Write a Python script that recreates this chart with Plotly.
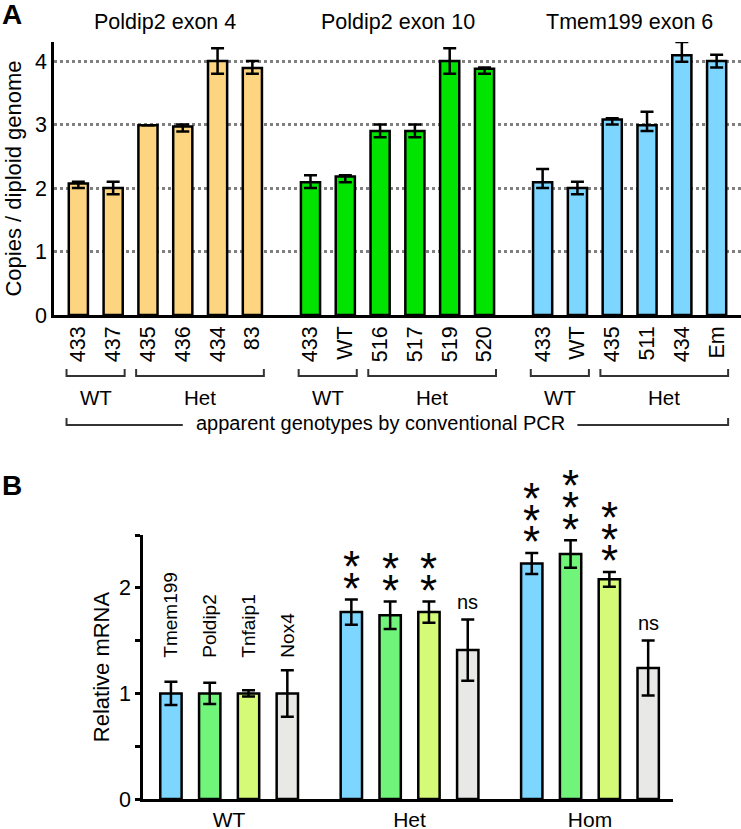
import plotly.graph_objects as go

FONT = "Liberation Sans, Arial, sans-serif"
W, H = 741, 829

# ---------------- panel A: copies per diploid genome ----------------
assays_a = ["Poldip2 exon 4", "Poldip2 exon 10", "Tmem199 exon 6"]
colors_a = ["#FDD47F", "#00E400", "#7DD6FF"]
samples_a = [
    ["433", "437", "435", "436", "434", "83"],
    ["433", "WT", "516", "517", "519", "520"],
    ["433", "WT", "435", "511", "434", "Em"],
]
copies = [
    [2.07, 2.00, 2.99, 2.97, 4.00, 3.89],
    [2.09, 2.18, 2.90, 2.90, 4.00, 3.88],
    [2.09, 2.00, 3.08, 2.99, 4.09, 4.00],
]
copies_up = [
    [0.03, 0.10, 0.00, 0.03, 0.20, 0.11],
    [0.11, 0.02, 0.10, 0.10, 0.20, 0.02],
    [0.21, 0.10, 0.02, 0.21, 0.21, 0.10],
]
copies_dn = [
    [0.07, 0.10, 0.00, 0.08, 0.20, 0.09],
    [0.09, 0.09, 0.10, 0.10, 0.20, 0.08],
    [0.09, 0.10, 0.08, 0.09, 0.10, 0.10],
]
genotype_a = [("WT", 0, 1), ("Het", 2, 5)]
pcr_label = "apparent genotypes by conventional PCR"

# ---------------- panel B: relative mRNA ----------------
genes_b = ["Tmem199", "Poldip2", "Tnfaip1", "Nox4"]
colors_b = ["#7DD6FF", "#70F57A", "#D4FA78", "#E8E8E6"]
genotypes_b = ["WT", "Het", "Hom"]
mrna = [
    [1.00, 1.00, 1.00, 1.00],
    [1.77, 1.74, 1.77, 1.41],
    [2.23, 2.32, 2.08, 1.24],
]
mrna_err = [
    [0.11, 0.10, 0.03, 0.22],
    [0.12, 0.13, 0.10, 0.29],
    [0.10, 0.13, 0.07, 0.26],
]
signif = [
    ["", "", "", ""],
    ["**", "**", "**", "ns"],
    ["***", "***", "***", "ns"],
]
gene_label_base = 1.31  # gene names sit just above this level over the WT bars

# layout helper (pixels from top -> paper)
def py(px):
    return (H - px) / H

gap_a = 0.67
gap_b = 0.65
bar_w = 0.55
y2_dom = [py(799), py(535)]
y2_max = 2.5

def y2_paper(v):
    # value on the panel B axis -> paper fraction (lets marks sit above the axis top)
    return y2_dom[0] + v / y2_max * (y2_dom[1] - y2_dom[0])

fig = go.Figure()

xa_all = []
for g, assay in enumerate(assays_a):
    xs = [g * (6 + gap_a) + i for i in range(6)]
    xa_all += xs
    fig.add_trace(go.Bar(
        x=xs, y=copies[g], width=bar_w,
        marker=dict(color=colors_a[g], line=dict(color="black", width=2.5)),
        error_y=dict(type="data", symmetric=False, array=copies_up[g],
                     arrayminus=copies_dn[g], color="black", thickness=2.5, width=6.5),
        xaxis="x", yaxis="y", showlegend=False, hoverinfo="skip",
    ))
    fig.add_annotation(x=(xs[0] + xs[-1]) / 2, y=py(22), xref="x", yref="paper",
                       yanchor="middle", text=assay, showarrow=False,
                       font=dict(size=21.5))
    # genotype brackets
    for name, i0, i1 in genotype_a:
        x0, x1 = xs[i0] - 0.34, xs[i1] + 0.33
        fig.add_shape(type="path", xref="x", yref="paper",
                      path=f"M {x0},{py(369)} L {x0},{py(376)} L {x1},{py(376)} L {x1},{py(369)}",
                      line=dict(color="#333333", width=2))
        fig.add_annotation(x=(x0 + x1) / 2, y=py(397), xref="x", yref="paper",
                           yanchor="middle", text=name, showarrow=False,
                           font=dict(size=20.5))

# overall PCR bracket with the label in the gap
left0, right1 = xa_all[0] - 0.34, xa_all[-1] + 0.33
left1, right0 = xa_all[3], xa_all[13]
fig.add_shape(type="path", xref="x", yref="paper",
              path=f"M {left0},{py(418)} L {left0},{py(425)} L {left1},{py(425)}",
              line=dict(color="#333333", width=2))
fig.add_shape(type="path", xref="x", yref="paper",
              path=f"M {right0},{py(425)} L {right1},{py(425)} L {right1},{py(418)}",
              line=dict(color="#333333", width=2))
fig.add_annotation(x=(left1 + right0) / 2, y=py(423), xref="x", yref="paper",
                   yanchor="middle", text=pcr_label, showarrow=False,
                   font=dict(size=20))

# panel B bars
for j, gene in enumerate(genes_b):
    xs = [g * (4 + gap_b) + j for g in range(3)]
    fig.add_trace(go.Bar(
        x=xs, y=[mrna[g][j] for g in range(3)], width=bar_w,
        marker=dict(color=colors_b[j], line=dict(color="black", width=2.5)),
        error_y=dict(type="data", array=[mrna_err[g][j] for g in range(3)],
                     color="black", thickness=2.5, width=6.5),
        xaxis="x2", yaxis="y2", showlegend=False, hoverinfo="skip",
    ))

# gene names: vertical text above the WT bars (carried by an invisible bar)
fig.add_trace(go.Bar(
    x=[j for j in range(4)], y=[gene_label_base] * 4, width=bar_w,
    text=genes_b, textposition="outside", textangle=-90, constraintext="none",
    outsidetextfont=dict(size=19, color="black"), cliponaxis=False,
    marker=dict(color="rgba(0,0,0,0)", line=dict(width=0)),
    xaxis="x2", yaxis="y2", showlegend=False, hoverinfo="skip",
))

# significance marks, stacked above the error bars
star_font = 44
for g in range(3):
    for j in range(4):
        s = signif[g][j]
        top = mrna[g][j] + mrna_err[g][j]
        xpos = g * (4 + gap_b) + j
        if s == "ns":
            fig.add_annotation(x=xpos, y=y2_paper(top + 0.17), xref="x2", yref="paper",
                               yanchor="middle", text="ns", showarrow=False,
                               font=dict(size=20))
        else:
            for k in range(len(s)):
                fig.add_annotation(x=xpos, y=y2_paper(top + 0.2 + 0.205 * k),
                                   xref="x2", yref="paper", yanchor="middle",
                                   text="*", showarrow=False,
                                   yshift=-0.23 * star_font,
                                   font=dict(size=star_font))

# panel letters
fig.add_annotation(x=0, y=py(14), xref="paper", yref="paper", text="<b>A</b>",
                   xanchor="left", yanchor="middle", showarrow=False,
                   font=dict(size=28))
fig.add_annotation(x=0, y=py(486), xref="paper", yref="paper", text="<b>B</b>",
                   xanchor="left", yanchor="middle", showarrow=False,
                   font=dict(size=28))

fig.update_layout(
    template="none",
    width=W, height=H,
    margin=dict(l=0, r=0, t=0, b=0),
    paper_bgcolor="white", plot_bgcolor="white",
    font=dict(family=FONT, size=21, color="black"),
    barmode="overlay",
    xaxis=dict(domain=[54 / W, 1], range=[-0.70, 19.04], anchor="y",
               tickvals=xa_all, ticktext=sum(samples_a, []), tickangle=-90,
               ticks="", showgrid=False, zeroline=False, showline=True,
               linecolor="black", linewidth=2.5, automargin=False,
               tickfont=dict(size=21.5)),
    yaxis=dict(domain=[py(315), py(42)], range=[0, 4.3], anchor="x",
               tickvals=[0, 1, 2, 3, 4], ticks="", showgrid=True,
               gridcolor="#808080", griddash="dot", gridwidth=2.5,
               zeroline=False, showline=True, linecolor="black", linewidth=2.5,
               automargin=False, tickfont=dict(size=21.5),
               title=dict(text="Copies / diploid genome", font=dict(size=22), standoff=8)),
    xaxis2=dict(domain=[143 / W, 673 / W], range=[-0.72, 12.94], anchor="y2",
                tickvals=[1.5 + g * (4 + gap_b) for g in range(3)],
                ticktext=genotypes_b, ticks="", showgrid=False, zeroline=False,
                showline=True, linecolor="black", linewidth=2.5, automargin=False,
                ticklabelstandoff=0, tickfont=dict(size=21)),
    yaxis2=dict(domain=y2_dom, range=[0, y2_max], anchor="x2",
                tickvals=[0, 0.5, 1, 1.5, 2, 2.5],
                ticktext=["0", "", "1", "", "2", ""],
                ticks="outside", ticklen=5, tickwidth=2.5, tickcolor="black",
                showgrid=False, zeroline=False, showline=True, linecolor="black",
                linewidth=2.5, automargin=False, tickfont=dict(size=21.5),
                title=dict(text="Relative mRNA", font=dict(size=22), standoff=4)),
)

# the page's default body margin would push the figure 8px off the window
fig.write_html("out.html", config={"displayModeBar": False},
               post_script="document.body.style.margin='0';")
